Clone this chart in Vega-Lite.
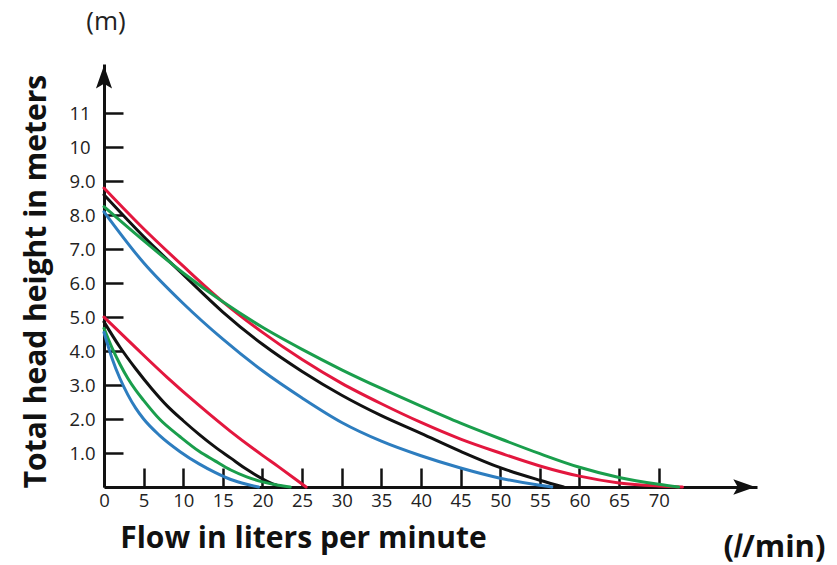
{
  "$schema": "https://vega.github.io/schema/vega-lite/v6.json",
  "width": 653,
  "height": 423,
  "autosize": {"type": "none"},
  "padding": {"left": 104, "top": 64, "right": 80, "bottom": 78},
  "background": "white",
  "config": {"view": {"stroke": null}, "font": "Open Sans"},
  "datasets": {
    "curves": [
      {"curve": "high-1", "pump": "P1", "flow": 0, "head": 8.8},
      {"curve": "high-1", "pump": "P1", "flow": 5, "head": 7.6},
      {"curve": "high-1", "pump": "P1", "flow": 10, "head": 6.5},
      {"curve": "high-1", "pump": "P1", "flow": 15, "head": 5.45},
      {"curve": "high-1", "pump": "P1", "flow": 20, "head": 4.55},
      {"curve": "high-1", "pump": "P1", "flow": 25, "head": 3.75},
      {"curve": "high-1", "pump": "P1", "flow": 30, "head": 3.05},
      {"curve": "high-1", "pump": "P1", "flow": 35, "head": 2.45},
      {"curve": "high-1", "pump": "P1", "flow": 40, "head": 1.9},
      {"curve": "high-1", "pump": "P1", "flow": 45, "head": 1.41},
      {"curve": "high-1", "pump": "P1", "flow": 50, "head": 1.0},
      {"curve": "high-1", "pump": "P1", "flow": 55, "head": 0.62},
      {"curve": "high-1", "pump": "P1", "flow": 60, "head": 0.32},
      {"curve": "high-1", "pump": "P1", "flow": 65, "head": 0.12},
      {"curve": "high-1", "pump": "P1", "flow": 70, "head": 0.03},
      {"curve": "high-1", "pump": "P1", "flow": 73, "head": 0},

      {"curve": "high-2", "pump": "P2", "flow": 0, "head": 8.6},
      {"curve": "high-2", "pump": "P2", "flow": 5, "head": 7.37},
      {"curve": "high-2", "pump": "P2", "flow": 10, "head": 6.25},
      {"curve": "high-2", "pump": "P2", "flow": 15, "head": 5.15},
      {"curve": "high-2", "pump": "P2", "flow": 20, "head": 4.2},
      {"curve": "high-2", "pump": "P2", "flow": 25, "head": 3.4},
      {"curve": "high-2", "pump": "P2", "flow": 30, "head": 2.7},
      {"curve": "high-2", "pump": "P2", "flow": 35, "head": 2.1},
      {"curve": "high-2", "pump": "P2", "flow": 40, "head": 1.58},
      {"curve": "high-2", "pump": "P2", "flow": 45, "head": 1.05},
      {"curve": "high-2", "pump": "P2", "flow": 50, "head": 0.57},
      {"curve": "high-2", "pump": "P2", "flow": 55, "head": 0.2},
      {"curve": "high-2", "pump": "P2", "flow": 58, "head": 0},

      {"curve": "high-3", "pump": "P3", "flow": 0, "head": 8.25},
      {"curve": "high-3", "pump": "P3", "flow": 5, "head": 7.25},
      {"curve": "high-3", "pump": "P3", "flow": 10, "head": 6.3},
      {"curve": "high-3", "pump": "P3", "flow": 15, "head": 5.45},
      {"curve": "high-3", "pump": "P3", "flow": 20, "head": 4.7},
      {"curve": "high-3", "pump": "P3", "flow": 25, "head": 4.05},
      {"curve": "high-3", "pump": "P3", "flow": 30, "head": 3.45},
      {"curve": "high-3", "pump": "P3", "flow": 35, "head": 2.9},
      {"curve": "high-3", "pump": "P3", "flow": 40, "head": 2.38},
      {"curve": "high-3", "pump": "P3", "flow": 45, "head": 1.88},
      {"curve": "high-3", "pump": "P3", "flow": 50, "head": 1.42},
      {"curve": "high-3", "pump": "P3", "flow": 55, "head": 0.98},
      {"curve": "high-3", "pump": "P3", "flow": 60, "head": 0.58},
      {"curve": "high-3", "pump": "P3", "flow": 65, "head": 0.28},
      {"curve": "high-3", "pump": "P3", "flow": 70, "head": 0.08},
      {"curve": "high-3", "pump": "P3", "flow": 72.5, "head": 0},

      {"curve": "high-4", "pump": "P4", "flow": 0, "head": 8.1},
      {"curve": "high-4", "pump": "P4", "flow": 5, "head": 6.6},
      {"curve": "high-4", "pump": "P4", "flow": 10, "head": 5.4},
      {"curve": "high-4", "pump": "P4", "flow": 15, "head": 4.35},
      {"curve": "high-4", "pump": "P4", "flow": 20, "head": 3.42},
      {"curve": "high-4", "pump": "P4", "flow": 25, "head": 2.62},
      {"curve": "high-4", "pump": "P4", "flow": 30, "head": 1.9},
      {"curve": "high-4", "pump": "P4", "flow": 35, "head": 1.35},
      {"curve": "high-4", "pump": "P4", "flow": 40, "head": 0.92},
      {"curve": "high-4", "pump": "P4", "flow": 45, "head": 0.56},
      {"curve": "high-4", "pump": "P4", "flow": 50, "head": 0.26},
      {"curve": "high-4", "pump": "P4", "flow": 55, "head": 0.05},
      {"curve": "high-4", "pump": "P4", "flow": 56.5, "head": 0},

      {"curve": "low-1", "pump": "P1", "flow": 0, "head": 5.0},
      {"curve": "low-1", "pump": "P1", "flow": 4, "head": 4.1},
      {"curve": "low-1", "pump": "P1", "flow": 8, "head": 3.22},
      {"curve": "low-1", "pump": "P1", "flow": 12, "head": 2.4},
      {"curve": "low-1", "pump": "P1", "flow": 16, "head": 1.63},
      {"curve": "low-1", "pump": "P1", "flow": 20, "head": 0.93},
      {"curve": "low-1", "pump": "P1", "flow": 22, "head": 0.6},
      {"curve": "low-1", "pump": "P1", "flow": 24, "head": 0.26},
      {"curve": "low-1", "pump": "P1", "flow": 25.5, "head": 0},

      {"curve": "low-2", "pump": "P2", "flow": 0, "head": 4.86},
      {"curve": "low-2", "pump": "P2", "flow": 2, "head": 4.12},
      {"curve": "low-2", "pump": "P2", "flow": 4, "head": 3.48},
      {"curve": "low-2", "pump": "P2", "flow": 6, "head": 2.9},
      {"curve": "low-2", "pump": "P2", "flow": 8, "head": 2.38},
      {"curve": "low-2", "pump": "P2", "flow": 10, "head": 1.95},
      {"curve": "low-2", "pump": "P2", "flow": 12, "head": 1.55},
      {"curve": "low-2", "pump": "P2", "flow": 14, "head": 1.18},
      {"curve": "low-2", "pump": "P2", "flow": 16, "head": 0.85},
      {"curve": "low-2", "pump": "P2", "flow": 18, "head": 0.52},
      {"curve": "low-2", "pump": "P2", "flow": 20, "head": 0.24},
      {"curve": "low-2", "pump": "P2", "flow": 21, "head": 0.12},
      {"curve": "low-2", "pump": "P2", "flow": 22.5, "head": 0},

      {"curve": "low-3", "pump": "P3", "flow": 0, "head": 4.67},
      {"curve": "low-3", "pump": "P3", "flow": 1, "head": 4.1},
      {"curve": "low-3", "pump": "P3", "flow": 2, "head": 3.62},
      {"curve": "low-3", "pump": "P3", "flow": 3, "head": 3.2},
      {"curve": "low-3", "pump": "P3", "flow": 4, "head": 2.85},
      {"curve": "low-3", "pump": "P3", "flow": 5, "head": 2.55},
      {"curve": "low-3", "pump": "P3", "flow": 7, "head": 2.0},
      {"curve": "low-3", "pump": "P3", "flow": 9.6, "head": 1.48},
      {"curve": "low-3", "pump": "P3", "flow": 12, "head": 1.05},
      {"curve": "low-3", "pump": "P3", "flow": 14, "head": 0.77},
      {"curve": "low-3", "pump": "P3", "flow": 16, "head": 0.5},
      {"curve": "low-3", "pump": "P3", "flow": 18, "head": 0.3},
      {"curve": "low-3", "pump": "P3", "flow": 20, "head": 0.15},
      {"curve": "low-3", "pump": "P3", "flow": 22, "head": 0.05},
      {"curve": "low-3", "pump": "P3", "flow": 23.5, "head": 0},

      {"curve": "low-4", "pump": "P4", "flow": 0, "head": 4.55},
      {"curve": "low-4", "pump": "P4", "flow": 1, "head": 3.8},
      {"curve": "low-4", "pump": "P4", "flow": 2, "head": 3.2},
      {"curve": "low-4", "pump": "P4", "flow": 3, "head": 2.72},
      {"curve": "low-4", "pump": "P4", "flow": 4, "head": 2.32},
      {"curve": "low-4", "pump": "P4", "flow": 5, "head": 2.0},
      {"curve": "low-4", "pump": "P4", "flow": 7, "head": 1.52},
      {"curve": "low-4", "pump": "P4", "flow": 9.6, "head": 1.04},
      {"curve": "low-4", "pump": "P4", "flow": 12, "head": 0.68},
      {"curve": "low-4", "pump": "P4", "flow": 14, "head": 0.43},
      {"curve": "low-4", "pump": "P4", "flow": 16, "head": 0.22},
      {"curve": "low-4", "pump": "P4", "flow": 18, "head": 0.08},
      {"curve": "low-4", "pump": "P4", "flow": 19.5, "head": 0}
    ]
  },
  "layer": [
    {
      "data": {"name": "curves"},
      "mark": {"type": "line", "interpolate": "monotone", "strokeWidth": 3, "strokeCap": "round"},
      "encoding": {
        "x": {
          "field": "flow", "type": "quantitative",
          "scale": {"domain": [0, 82.4], "nice": false, "zero": false},
          "axis": {
            "title": "Flow in liters per minute",
            "values": [0, 5, 10, 15, 20, 25, 30, 35, 40, 45, 50, 55, 60, 65, 70],
            "grid": false,
            "domainColor": "#111", "domainWidth": 3,
            "tickColor": "#111", "tickWidth": 2.5, "tickSize": -19,
            "labelPadding": 23, "labelBaseline": "top", "labelFontSize": 18.5, "labelColor": "#222",
            "labelFlush": false, "labelOverlap": false,
            "titleFontSize": 30, "titleFontWeight": "bold", "titleColor": "#111",
            "titleX": 199, "titleY": 51, "titleAlign": "center", "titleBaseline": "middle"
          }
        },
        "y": {
          "field": "head", "type": "quantitative",
          "scale": {"domain": [0, 12.45], "nice": false, "zero": false},
          "axis": {
            "title": "Total head height in meters",
            "values": [1, 2, 3, 4, 5, 6, 7, 8, 9, 10, 11],
            "labelExpr": "datum.value >= 10 ? format(datum.value, 'd') : format(datum.value, '.1f')",
            "grid": false,
            "domainColor": "#111", "domainWidth": 3,
            "tickColor": "#111", "tickWidth": 2.5, "tickSize": -19,
            "labelPadding": 54, "labelAlign": "left", "labelBaseline": "middle", "labelFontSize": 18.5, "labelColor": "#222",
            "labelFlush": false, "labelOverlap": false,
            "titleFontSize": 30, "titleFontWeight": "bold", "titleColor": "#111",
            "titleX": -68, "titleY": 217, "titleAlign": "center", "titleBaseline": "middle", "titleAngle": -90
          }
        },
        "detail": {"field": "curve", "type": "nominal"},
        "color": {
          "field": "pump", "type": "nominal", "legend": null,
          "scale": {"domain": ["P1", "P2", "P3", "P4"], "range": ["#e3173e", "#111111", "#1a9e4c", "#2d7dbf"]}
        }
      }
    },
    {
      "data": {"values": [{"flow": 0, "head": 12.07}]},
      "mark": {"type": "point", "shape": "M0,-1L0.7,1L0,0.6L-0.7,1Z", "size": 530, "filled": true, "color": "#111", "opacity": 1, "strokeWidth": 0},
      "encoding": {
        "x": {"field": "flow", "type": "quantitative"},
        "y": {"field": "head", "type": "quantitative"}
      }
    },
    {
      "data": {"values": [{"flow": 80.8, "head": 0}]},
      "mark": {"type": "point", "shape": "M1,0L-1,0.7L-0.6,0L-1,-0.7Z", "size": 484, "filled": true, "color": "#111", "opacity": 1, "strokeWidth": 0},
      "encoding": {
        "x": {"field": "flow", "type": "quantitative"},
        "y": {"field": "head", "type": "quantitative"}
      }
    },
    {
      "data": {"values": [{"flow": 0.25, "head": 13.68, "unit": "(m)"}]},
      "mark": {"type": "text", "fontSize": 26, "color": "#222", "align": "center", "baseline": "middle"},
      "encoding": {
        "x": {"field": "flow", "type": "quantitative"},
        "y": {"field": "head", "type": "quantitative"},
        "text": {"field": "unit"}
      }
    },
    {
      "data": {"values": [{"flow": 84.6, "head": -1.79, "unit": "(𝑙/min)"}]},
      "mark": {"type": "text", "fontSize": 31, "fontWeight": "bold", "color": "#111", "align": "center", "baseline": "middle"},
      "encoding": {
        "x": {"field": "flow", "type": "quantitative"},
        "y": {"field": "head", "type": "quantitative"},
        "text": {"field": "unit"}
      }
    }
  ]
}
